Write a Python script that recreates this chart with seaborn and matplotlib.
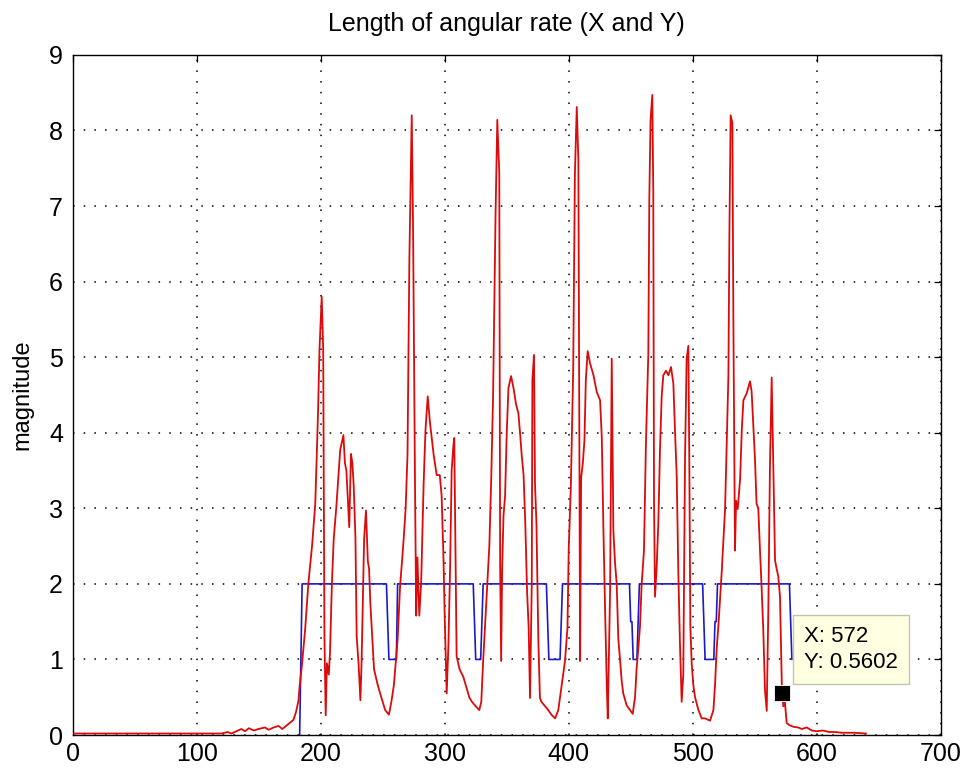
import matplotlib
matplotlib.use("Agg")
import matplotlib.pyplot as plt
import seaborn as sns
import pandas as pd

# ---- data ----
red_x = [1, 60, 120, 125, 128, 132, 136, 139, 142, 146, 150, 155, 158, 162, 166, 169, 172, 175, 178,
         180, 182, 183, 184.7, 187.4, 190, 193, 195.6, 197.8, 199, 200.8, 202, 203, 204, 205, 206.5,
         207.5, 209, 210.5, 212.5, 215.7, 218.3, 219.5, 220.7, 222, 223, 224.4, 225.5, 226.6, 228,
         229, 230.5, 232, 233, 235, 236.5, 238, 239, 240, 241.5, 243, 246, 249, 252, 255, 257, 259,
         262, 264, 266.5, 268.5, 270, 271.5, 273.4, 274.5, 276, 277, 278, 279.5, 281, 283, 284.5,
         286.3, 288, 291, 293.5, 296, 297.5, 298.9, 300.2, 301.6, 303, 304.3, 305.6, 307, 307.7,
         308.8, 309.6, 312, 315, 317, 320, 322, 325, 327.9, 329.5, 331, 333.5, 336, 337.5, 339, 341,
         342.4, 344, 344.7, 345.5, 346.3, 347.4, 348.7, 350, 351.4, 353.5, 355.5, 357.6, 359.4,
         360.8, 362, 363.6, 365, 366.4, 367.7, 368.8, 370.2, 370.7, 372, 372.8, 374, 375.5, 376.8,
         378, 381, 383.5, 386, 389, 391.6, 394.3, 397, 399, 400, 401.7, 403.6, 405, 406.5, 407.8,
         408.6, 409.2, 410, 411.4, 412.7, 413.8, 415.3, 417.2, 420, 422.6, 425.3, 426.7, 428, 429.4,
         430.7, 431.5, 433.4, 434.7, 436, 437.4, 438.7, 440, 441.4, 442.7, 444, 446.8, 449.5, 451.6,
         453.5, 454.8, 456.2, 457.5, 458.8, 460.7, 462.3, 464.2, 465, 466, 467.4, 468.2, 468.8,
         469.6, 470.9, 472.3, 473.6, 475, 476.3, 478.5, 480.4, 482.5, 484.4, 485.7, 487.1, 488.4,
         489.7, 491.1, 492.4, 493.8, 495.1, 496.5, 497.3, 498.1, 499.2, 500.5, 501.9, 504.6, 507.3,
         510, 514, 516.7, 518, 519.4, 520.7, 523.4, 526.1, 527.5, 528.8, 529.6, 530.6, 532, 532.8,
         533.6, 534.1, 535, 536.3, 538.2, 539.6, 540.9, 543.5, 546.2, 547.5, 548.9, 550.2, 551.5,
         552.9, 554.2, 555.6, 556.9, 558.3, 559.7, 561, 562.3, 563.7, 565, 566.4, 567.7, 569, 570.4,
         572, 573.1, 574.4, 575.8, 578, 581, 585, 588, 592, 596, 600, 605, 610, 615, 620, 630, 640]
red_y = [0.02, 0.02, 0.02, 0.04, 0.02, 0.05, 0.08, 0.05, 0.09, 0.06, 0.08, 0.10, 0.07, 0.10, 0.12, 0.08,
         0.12, 0.16, 0.20, 0.30, 0.45, 0.65, 0.90, 1.39, 2.00, 2.50, 3.06, 4.25, 5.10, 5.80, 5.10, 1.30,
         0.26, 0.95, 0.80, 1.10, 2.00, 2.60, 3.00, 3.77, 3.97, 3.60, 3.50, 3.06, 2.75, 3.72, 3.60, 3.30,
         2.60, 1.30, 0.95, 0.46, 1.00, 2.60, 2.97, 2.30, 2.20, 1.75, 1.30, 0.87, 0.66, 0.49, 0.33, 0.27,
         0.44, 0.66, 1.26, 1.97, 2.50, 3.00, 3.72, 6.30, 8.20, 6.67, 3.39, 1.58, 2.35, 1.58, 2.02, 3.33,
         4.04, 4.48, 4.15, 3.72, 3.44, 3.44, 3.17, 2.40, 1.42, 0.55, 1.20, 2.19, 3.50, 3.83, 3.93, 2.19,
         1.04, 0.87, 0.77, 0.66, 0.49, 0.44, 0.38, 0.33, 0.44, 0.98, 1.75, 2.51, 3.39, 4.48, 6.89, 8.14,
         7.43, 2.24, 0.98, 2.19, 2.90, 3.17, 3.99, 4.59, 4.75, 4.59, 4.37, 4.26, 3.99, 3.72, 3.44, 2.79,
         1.91, 1.42, 0.49, 2.00, 4.70, 5.03, 3.33, 2.79, 1.26, 0.49, 0.44, 0.38, 0.33, 0.27, 0.22, 0.33,
         0.66, 0.98, 1.42, 2.46, 3.28, 4.81, 7.43, 8.31, 7.60, 3.99, 0.98, 3.40, 3.60, 3.90, 4.70, 5.08,
         4.92, 4.76, 4.54, 4.43, 3.93, 2.71, 1.61, 0.66, 0.22, 1.94, 4.98, 2.71, 2.27, 2.00, 1.27, 1.00,
         0.72, 0.55, 0.39, 0.33, 0.28, 0.50, 0.89, 1.16, 1.44, 1.99, 2.44, 3.88, 5.04, 7.09, 8.14, 8.47,
         7.20, 3.10, 1.83, 2.21, 2.82, 3.77, 4.49, 4.76, 4.82, 4.76, 4.87, 4.65, 4.04, 3.43, 2.16, 1.22,
         0.44, 0.80, 3.65, 4.98, 5.15, 3.54, 1.44, 0.94, 0.66, 0.50, 0.33, 0.22, 0.22, 0.19, 0.33, 0.66,
         1.16, 1.44, 2.16, 2.99, 3.88, 4.76, 6.65, 8.20, 8.10, 5.48, 3.65, 2.44, 3.10, 2.99, 3.38, 4.04,
         4.43, 4.52, 4.68, 4.55, 4.09, 3.66, 3.06, 3.00, 2.47, 1.94, 1.40, 0.59, 0.32, 1.67, 3.55, 4.73,
         3.60, 2.31, 2.20, 2.10, 1.83, 0.5602, 0.38, 0.43, 0.16, 0.13, 0.11, 0.10, 0.08, 0.10, 0.06,
         0.05, 0.06, 0.04, 0.04, 0.03, 0.03, 0.02]

blue_x = [183, 184, 185, 253, 254, 255, 261, 262, 323, 324, 325, 329, 330, 331, 382, 383, 384, 393,
          394, 395, 449, 450, 451, 452, 455, 456, 457, 508, 509, 510, 517, 518, 519, 520, 578, 579, 580]
blue_y = [0, 1, 2, 2, 1.5, 1, 1, 2, 2, 1.5, 1, 1, 1.5, 2, 2, 1.5, 1, 1,
          1.5, 2, 2, 1.5, 1.5, 1, 1, 1.5, 2, 2, 1.5, 1, 1, 1.5, 1.5, 2, 2, 1.5, 1]

x_ticks = [0, 100, 200, 300, 400, 500, 600, 700]
y_ticks = [0, 1, 2, 3, 4, 5, 6, 7, 8, 9]
title_text = "Length of angular rate (X and Y)"
ylabel_text = "magnitude"
tip_x = 572
tip_y = 0.5602

# ---- style ----
sns.set_theme(style="white")
plt.rcParams['font.family'] = ['Liberation Sans', 'DejaVu Sans']

fig = plt.figure(figsize=(9.66, 7.72), dpi=100)
fig.patch.set_facecolor("white")
ax = fig.add_axes([0.0753, 0.0479, 0.8985, 0.881])
ax.set_facecolor("white")

red_df = pd.DataFrame({"x": red_x, "y": red_y})
blue_df = pd.DataFrame({"x": blue_x, "y": blue_y})

sns.lineplot(data=blue_df, x="x", y="y", color="#1a1ac8", linewidth=1.2,
             estimator=None, sort=False, ax=ax, zorder=3)
sns.lineplot(data=red_df, x="x", y="y", color="#dc0a0a", linewidth=1.3,
             estimator=None, sort=False, ax=ax, zorder=4)

ax.set_xlim(0, 700)
ax.set_ylim(0, 9)
ax.set_xticks(x_ticks)
ax.set_yticks(y_ticks)
ax.set_xticklabels([str(v) for v in x_ticks])
ax.set_yticklabels([str(v) for v in y_ticks])
ax.set_xlabel("")
ax.set_ylabel(ylabel_text, fontsize=17, color="black")
ax.yaxis.set_label_coords(-0.045, 0.5)
ax.set_title(title_text, fontsize=18, pad=17, color="black")

ax.grid(True, color="black", linestyle=(0, (1, 6)), linewidth=1.1)
ax.set_axisbelow(True)
for s in ax.spines.values():
    s.set_visible(True)
    s.set_color("black")
    s.set_linewidth(1.0)
ax.tick_params(axis="both", direction="in", length=5, width=0.9, top=True, right=True,
               labelsize=18, colors="black")
ax.tick_params(axis="x", pad=5)
ax.tick_params(axis="y", pad=7)

# data tip
ax.plot([tip_x], [tip_y], marker="s", markersize=11, color="black",
        markeredgecolor="white", markeredgewidth=0.6, linestyle="none", zorder=6)
ax.annotate(f"X: {tip_x}\nY: {tip_y}", xy=(tip_x, tip_y), xytext=(16, 14),
            textcoords="offset points", ha="left", va="bottom", fontsize=16,
            linespacing=1.35, color="black",
            bbox=dict(boxstyle="square,pad=0.5", fc="#ffffe1", ec="#c4c4ae", lw=1.0),
            zorder=7, annotation_clip=False)

fig.savefig("out.png", dpi=100, facecolor="white")
